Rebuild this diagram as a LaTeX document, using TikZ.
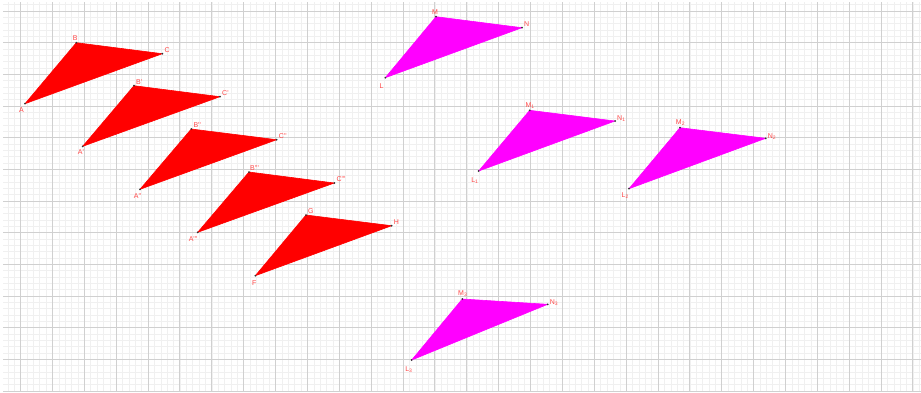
\documentclass[tikz,border=0pt]{standalone}
\usepackage{fontspec}
\setmainfont{Liberation Sans}
\usepackage{tikz}
\definecolor{trired}{RGB}{255,0,0}
\definecolor{trimagenta}{RGB}{255,0,255}
\definecolor{labelred}{RGB}{255,72,72}
\definecolor{gridgray}{RGB}{208,208,208}
\definecolor{gridlight}{RGB}{240,240,240}
\tikzset{
  minorgrid/.style={draw=gridlight, line width=0.5pt},
  majorgrid/.style={draw=gridgray, line width=1pt},
  redtri/.style={fill=trired, draw=trired, line width=0.6pt, line join=round},
  pinktri/.style={fill=trimagenta, draw=trimagenta, line width=0.6pt, line join=round},
  vertex/.style={fill=black!80},
  lbl/.style={font=\fontsize{7}{8}\selectfont, text=labelred, inner sep=0pt},
}

\begin{document}
\begin{tikzpicture}[x=1pt, y=-1pt]
  \useasboundingbox[fill=white] (0,0) rectangle (921,392);
  % grid
  \begin{scope}
    \clip (3,2.5) rectangle (921,392);
    \foreach \k in {-3,...,141}
      \draw[minorgrid] ({20.6+\k*6.374},0) -- ++(0,392);
    \foreach \k in {-2,...,61}
      \draw[minorgrid] (0,{11+\k*6.334}) -- ++(921,0);
    \foreach \k in {0,...,28}
      \draw[majorgrid] ({20.6+\k*31.87},0) -- ++(0,392);
    \foreach \k in {0,...,12}
      \draw[majorgrid] (0,{11+\k*31.67}) -- ++(921,0);
  \end{scope}

  % red triangles
  \coordinate (A) at (25,103.7);
  \coordinate (B) at (76.3,42.7);
  \coordinate (C) at (162.3,53.7);
  \coordinate (A1) at (82.7,146.3);
  \coordinate (B1) at (134,85.7);
  \coordinate (C1) at (220,96.7);
  \coordinate (A2) at (140,189.3);
  \coordinate (B2) at (191.3,129);
  \coordinate (C2) at (276.7,139.7);
  \coordinate (A3) at (197.7,232.3);
  \coordinate (B3) at (249,172);
  \coordinate (C3) at (334.3,183);
  \coordinate (F) at (255.3,275.7);
  \coordinate (G) at (306,215);
  \coordinate (H) at (391.7,225.7);
  \filldraw[redtri] (A) -- (B) -- (C) -- cycle;
  \filldraw[redtri] (A1) -- (B1) -- (C1) -- cycle;
  \filldraw[redtri] (A2) -- (B2) -- (C2) -- cycle;
  \filldraw[redtri] (A3) -- (B3) -- (C3) -- cycle;
  \filldraw[redtri] (F) -- (G) -- (H) -- cycle;

  % magenta triangles
  \coordinate (L) at (385.3,77.7);
  \coordinate (M) at (436,16.7);
  \coordinate (N) at (522,27.7);
  \coordinate (L1) at (478.7,171);
  \coordinate (M1) at (529.7,110.3);
  \coordinate (N1) at (615,121);
  \coordinate (L2) at (629,188.7);
  \coordinate (M2) at (680,127.7);
  \coordinate (N2) at (765.7,138.3);
  \coordinate (L3) at (411.7,360);
  \coordinate (M3) at (462.3,299);
  \coordinate (N3) at (547.7,304.3);
  \filldraw[pinktri] (L) -- (M) -- (N) -- cycle;
  \filldraw[pinktri] (L1) -- (M1) -- (N1) -- cycle;
  \filldraw[pinktri] (L2) -- (M2) -- (N2) -- cycle;
  \filldraw[pinktri] (L3) -- (M3) -- (N3) -- cycle;

  % points
  \foreach \p in {A,B,C,A1,B1,C1,A2,B2,C2,A3,B3,C3,F,G,H,
                  L,M,N,L1,M1,N1,L2,M2,N2,L3,M3,N3}
    \fill[vertex] (\p) circle (1pt);

  % labels
  \node[lbl, anchor=north east] (lA) at ([shift={(-1,4)}]A) {A};
  \node[lbl, anchor=south] (lB) at ([shift={(-1,-2)}]B) {B};
  \node[lbl, anchor=south west] (lC) at ([shift={(2,-1)}]C) {C};
  \node[lbl, anchor=north east] (lA1) at ([shift={(1.5,3.5)}]A1) {A\textquotesingle};
  \node[lbl, anchor=south west] (lB1) at ([shift={(2,-1)}]B1) {B\textquotesingle};
  \node[lbl, anchor=south west] (lC1) at ([shift={(2,-1)}]C1) {C\textquotesingle};
  \node[lbl, anchor=north east] (lA2) at ([shift={(1.5,4)}]A2) {A\textquotesingle\textquotesingle};
  \node[lbl, anchor=south west] (lB2) at ([shift={(2,-1.5)}]B2) {B\textquotesingle\textquotesingle};
  \node[lbl, anchor=south west] (lC2) at ([shift={(2,-1)}]C2) {C\textquotesingle\textquotesingle};
  \node[lbl, anchor=north east] (lA3) at ([shift={(0,4)}]A3) {A\textquotesingle\textquotesingle\textquotesingle};
  \node[lbl, anchor=south west] (lB3) at ([shift={(1,-1)}]B3) {B\textquotesingle\textquotesingle\textquotesingle};
  \node[lbl, anchor=south west] (lC3) at ([shift={(2,-1)}]C3) {C\textquotesingle\textquotesingle\textquotesingle};
  \node[lbl, anchor=north] (lF) at ([shift={(-1,5)}]F) {F};
  \node[lbl, anchor=south west] (lG) at ([shift={(2,-1.5)}]G) {G};
  \node[lbl, anchor=south west] (lH) at ([shift={(2,-1)}]H) {H};
  \node[lbl, anchor=north east] (lL) at ([shift={(-1.5,6)}]L) {L};
  \node[lbl, anchor=south] (lM) at ([shift={(-1,-2.5)}]M) {M};
  \node[lbl, anchor=south west] (lN) at ([shift={(2,-1)}]N) {N};
  \node[lbl, anchor=north east] (lL1) at ([shift={(0,6)}]L1) {L\textsubscript{1}};
  \node[lbl, anchor=south] (lM1) at ([shift={(0.5,-1.5)}]M1) {M\textsubscript{1}};
  \node[lbl, anchor=south west] (lN1) at ([shift={(2,1)}]N1) {N\textsubscript{1}};
  \node[lbl, anchor=north east] (lL2) at ([shift={(0,4)}]L2) {L\textsubscript{2}};
  \node[lbl, anchor=south] (lM2) at ([shift={(0.5,-2)}]M2) {M\textsubscript{2}};
  \node[lbl, anchor=south west] (lN2) at ([shift={(2,1)}]N2) {N\textsubscript{2}};
  \node[lbl, anchor=north east] (lL3) at ([shift={(1,6)}]L3) {L\textsubscript{3}};
  \node[lbl, anchor=south] (lM3) at ([shift={(0.5,-2)}]M3) {M\textsubscript{3}};
  \node[lbl, anchor=south west] (lN3) at ([shift={(2,1.5)}]N3) {N\textsubscript{3}};
\end{tikzpicture}
\end{document}
